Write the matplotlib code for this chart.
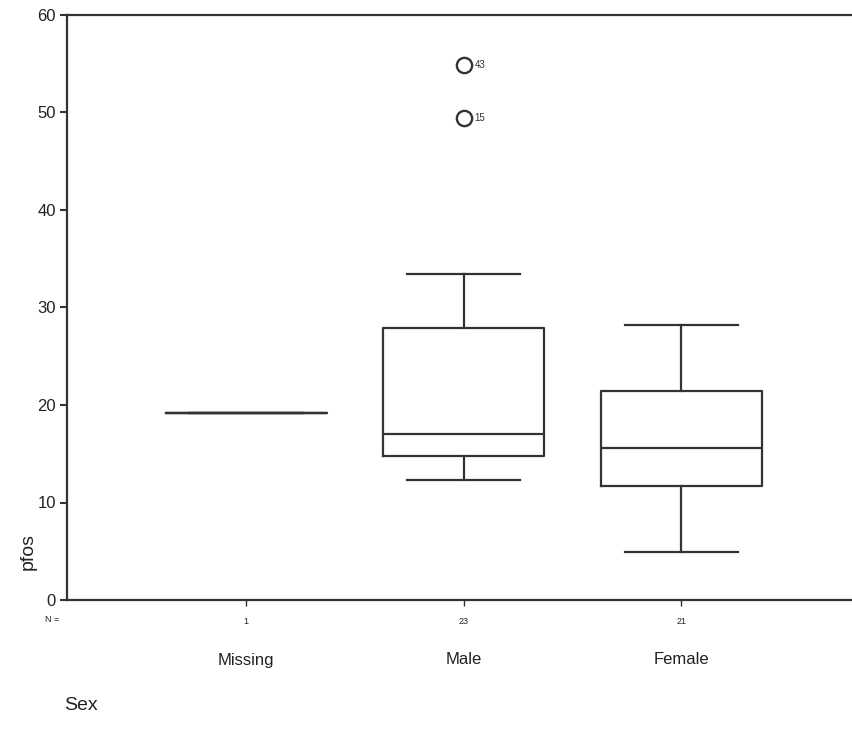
import matplotlib
matplotlib.use("Agg")
import matplotlib.pyplot as plt
from matplotlib import transforms

plt.rcParams['font.family'] = ['Liberation Sans', 'DejaVu Sans']

categories = ["Missing", "Male", "Female"]
counts = [1, 23, 21]
whislo = [19.2, 12.3, 4.9]
q1 = [19.2, 14.8, 11.7]
med = [19.2, 17.0, 15.6]
q3 = [19.2, 27.9, 21.4]
whishi = [19.2, 33.4, 28.2]
outlier_vals = [[], [54.9, 49.4], []]
outlier_ids = [[], ["43", "15"], []]
yticks = [0, 10, 20, 30, 40, 50, 60]

fig = plt.figure(figsize=(8.53, 7.40), dpi=100)
ax = fig.add_axes([67/853, 140/740, 1 - 67/853, 585/740])

positions = [1, 2, 3]
stats = []
for i in range(3):
    stats.append(dict(med=med[i], q1=q1[i], q3=q3[i], whislo=whislo[i],
                      whishi=whishi[i], fliers=[], label=categories[i]))

lw = 1.6
col = '#333333'
ax.bxp(stats, positions=positions, widths=0.74, capwidths=0.52,
       showfliers=False,
       boxprops=dict(color=col, linewidth=lw),
       whiskerprops=dict(color=col, linewidth=lw),
       capprops=dict(color=col, linewidth=lw),
       medianprops=dict(color=col, linewidth=lw))

for i in range(3):
    for v, lab in zip(outlier_vals[i], outlier_ids[i]):
        ax.plot([positions[i]], [v], marker='o', markersize=11,
                markerfacecolor='none', markeredgecolor=col, markeredgewidth=1.7,
                linestyle='none')
        ax.annotate(lab, (positions[i], v), xytext=(8, 0), textcoords='offset points',
                    fontsize=7, va='center', ha='left', color=col)

ax.set_xlim(0.177, 3.79)
ax.set_ylim(0, 60)
ax.set_yticks(yticks)
ax.set_yticklabels([str(t) for t in yticks], fontsize=12, color='#222222')
ax.tick_params(axis='y', length=5, width=1.5, color=col, pad=3)
ax.set_xticks(positions)
ax.set_xticklabels([str(c) for c in counts], fontsize=6.5, color='#222222')
ax.tick_params(axis='x', length=4, width=1, color=col, pad=8)

for s in ['left', 'bottom', 'top']:
    ax.spines[s].set_linewidth(1.6)
    ax.spines[s].set_color(col)
ax.spines['right'].set_visible(False)

trans = transforms.blended_transform_factory(ax.transData, ax.transAxes)
for p, c in zip(positions, categories):
    ax.text(p, -60/585, c, transform=trans, ha='center', va='center',
            fontsize=12, color='#222222')
ax.text(-22/786, -20/585, "N =", transform=ax.transAxes, ha='left', va='center',
        fontsize=6.5, color='#222222')

ax.set_ylabel("pfos", fontsize=14, color='#222222')
ax.yaxis.set_label_coords(-30/786, 48/585)

fig.text(64/853, 1 - 705/740, "Sex", fontsize=14, ha='left', va='center', color='#222222')

fig.savefig("out.png", dpi=100)
